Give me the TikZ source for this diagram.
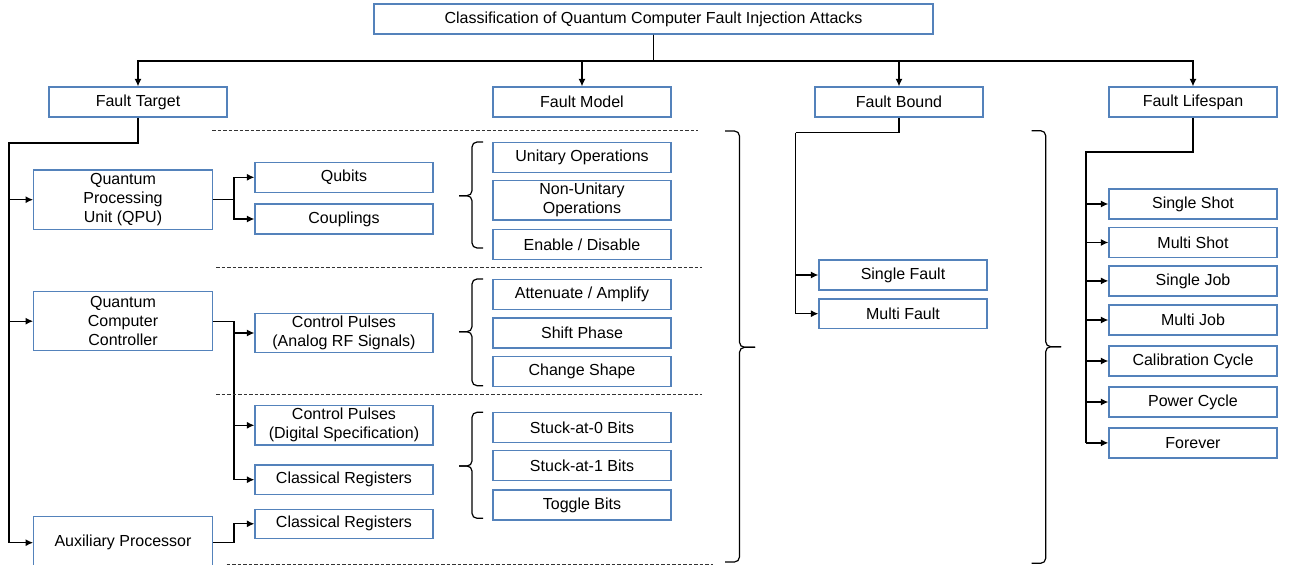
\documentclass[tikz,border=0pt]{standalone}
\usepackage{fontspec}
\setmainfont{Liberation Sans}
\usetikzlibrary{arrows.meta}
\definecolor{boxblue}{RGB}{84,130,187}
\begin{document}
\begin{tikzpicture}
    [x=1pt, y=-1pt,
     box/.style={draw=boxblue, line width=1.2pt, fill=white, inner sep=0pt, align=center,
                 minimum width=178pt, minimum height=30pt, font=\fontsize{16}{19}\selectfont},
     narrow/.style={box, minimum width=168pt},
     conn/.style={line width=1.3pt},
     trunk/.style={line width=2pt},
     arr/.style={conn, -{Latex[length=7.5pt,width=7pt]}},
     sep/.style={line width=0.8pt, black!80, dash pattern=on 3.5pt off 2pt},
     curly/.style={line width=1.2pt, rounded corners=5pt}]
    \useasboundingbox (0,0) rectangle (1315,565);

    % top level
    \node[box, minimum width=559pt] (title) at (653.5,19) {Classification of Quantum Computer Fault Injection Attacks};
    \node[box] (target) at (138,102) {Fault Target};
    \node[box] (model) at (582,102) {Fault Model};
    \node[narrow] (bound) at (899,102) {Fault Bound};
    \node[narrow] (life) at (1193,102) {Fault Lifespan};
    \coordinate (bus) at (0,61);
    \draw[arr] (title.south) -- (title.south |- bus) -| (target.north);
    \draw[arr] (title.south) -- (title.south |- bus) -| (model.north);
    \draw[arr] (title.south) -- (title.south |- bus) -| (bound.north);
    \draw[arr] (title.south) -- (title.south |- bus) -| (life.north);

    % fault target
    \node[box, minimum width=178.6pt, minimum height=59.3pt] (qpu) at (123,199.7) {Quantum\\Processing\\Unit (QPU)};
    \node[box, minimum width=178.6pt, minimum height=59pt] (qcc) at (123,321.2) {Quantum\\Computer\\Controller};
    \node[box, minimum width=178.6pt, minimum height=52pt] (aux) at (123,542.7) {Auxiliary Processor};
    \node[box] (qubits) at (344,177.3) {Qubits};
    \node[box] (couplings) at (344,219) {Couplings};
    \node[box, minimum height=39.4pt] (pulsesRF) at (344,333) {Control Pulses\\(Analog RF Signals)};
    \node[box, minimum height=39.4pt] (pulsesDig) at (344,425.3) {Control Pulses\\(Digital Specification)};
    \node[box, minimum height=29.3pt] (regsQcc) at (344,479.7) {Classical Registers};
    \node[box, minimum height=29pt] (regsAux) at (344,523.8) {Classical Registers};

    \coordinate (trunkT) at (9,143.3);
    \draw[trunk] (target.south) |- (trunkT) -- (trunkT |- aux.west);
    \draw[arr] (trunkT |- qpu.west) -- (qpu.west);
    \draw[arr] (trunkT |- qcc.west) -- (qcc.west);
    \draw[arr] (trunkT |- aux.west) -- (aux.west);
    \draw[arr] (qpu.east) -- ++(21,0) |- (qubits.west);
    \draw[arr] (qpu.east) -- ++(21,0) |- (couplings.west);
    \draw[arr] (qcc.east) -- ++(21,0) |- (pulsesRF.west);
    \draw[arr] (qcc.east) -- ++(21,0) |- (pulsesDig.west);
    \draw[arr] (qcc.east) -- ++(21,0) |- (regsQcc.west);
    \draw[arr] (aux.east) -- ++(21,0) |- (regsAux.west);

    % fault model
    \node[box] (unitary) at (582,157.2) {Unitary Operations};
    \node[box, minimum height=39.7pt] (nonunitary) at (582,200.2) {Non-Unitary\\Operations};
    \node[box] (enable) at (582,244.7) {Enable / Disable};
    \node[box] (attenuate) at (582,294.5) {Attenuate / Amplify};
    \node[box] (phase) at (582,332.9) {Shift Phase};
    \node[box] (shape) at (582,371.7) {Change Shape};
    \node[box] (stuckzero) at (582,427.3) {Stuck-at-0 Bits};
    \node[box] (stuckone) at (582,465.7) {Stuck-at-1 Bits};
    \node[box] (toggle) at (582,505) {Toggle Bits};

    % braces
    \draw[curly] (483,142) -- (472,142) -- (472,195.7) -- (459,195.7);
    \draw[curly] (483,248) -- (472,248) -- (472,195.7) -- (459,195.7);
    \draw[curly] (483,279) -- (472,279) -- (472,331.7) -- (459,331.7);
    \draw[curly] (483,385.7) -- (472,385.7) -- (472,331.7) -- (459,331.7);
    \draw[curly] (483,412.3) -- (472,412.3) -- (472,466) -- (459,466);
    \draw[curly] (483,518.3) -- (472,518.3) -- (472,466) -- (459,466);
    \draw[curly] (725,131) -- (739.5,131) -- (739.5,347.3) -- (755,347.3);
    \draw[curly] (725,562) -- (739.5,562) -- (739.5,347.3) -- (755,347.3);

    \draw[sep] (212,130) -- (698,130);
    \draw[sep] (216,267.5) -- (701.7,267.5);
    \draw[sep] (216,394.7) -- (701.7,394.7);
    \draw[sep] (226.7,564) -- (713,564);

    % fault bound
    \node[narrow] (singlefault) at (903,275) {Single Fault};
    \node[narrow, minimum height=29.3pt] (multifault) at (903,313.7) {Multi Fault};
    \coordinate (trunkB) at (795.7,132.7);
    \draw[conn] (bound.south) |- (trunkB);
    \draw[arr] (trunkB) |- (singlefault.west);
    \draw[arr] (trunkB) |- (multifault.west);
    \draw[curly] (1031.7,130.7) -- (1045.7,130.7) -- (1045.7,346.7) -- (1061,346.7);
    \draw[curly] (1031.7,563.3) -- (1045.7,563.3) -- (1045.7,346.7) -- (1061,346.7);

    % fault lifespan
    \node[narrow] (singleshot) at (1193,204) {Single Shot};
    \node[narrow] (multishot) at (1193,242.5) {Multi Shot};
    \node[narrow] (singlejob) at (1193,280.9) {Single Job};
    \node[narrow] (multijob) at (1193,320) {Multi Job};
    \node[narrow] (calib) at (1193,361) {Calibration Cycle};
    \node[narrow] (power) at (1193,402) {Power Cycle};
    \node[narrow] (forever) at (1193,442.9) {Forever};
    \coordinate (trunkL) at (1085.7,152.3);
    \draw[trunk] (life.south) |- (trunkL) -- (trunkL |- forever.west);
    \draw[arr] (trunkL |- singleshot.west) -- (singleshot.west);
    \draw[arr] (trunkL |- multishot.west) -- (multishot.west);
    \draw[arr] (trunkL |- singlejob.west) -- (singlejob.west);
    \draw[arr] (trunkL |- multijob.west) -- (multijob.west);
    \draw[arr] (trunkL |- calib.west) -- (calib.west);
    \draw[arr] (trunkL |- power.west) -- (power.west);
    \draw[arr] (trunkL |- forever.west) -- (forever.west);
\end{tikzpicture}
\end{document}
